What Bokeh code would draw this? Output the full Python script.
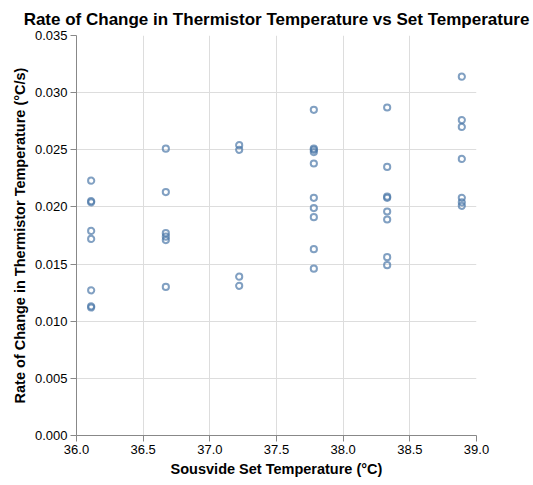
from bokeh.plotting import figure
from bokeh.models import FixedTicker, NumeralTickFormatter, Range1d
from bokeh.embed import file_html
from bokeh.resources import INLINE

# Set temperatures (°C) and measured rates (°C/s)
set_temp = (
    [36.11] * 8 + [36.67] * 6 + [37.22] * 4 + [37.78] * 10 + [38.33] * 8 + [38.89] * 7
)
rate = [
    # 36.11
    0.0223, 0.0205, 0.0204, 0.0179, 0.0172, 0.0127, 0.0113, 0.0112,
    # 36.67
    0.0251, 0.0213, 0.0177, 0.0174, 0.0171, 0.0130,
    # 37.22
    0.0254, 0.0250, 0.0139, 0.0131,
    # 37.78
    0.0285, 0.0251, 0.0250, 0.0248, 0.0238, 0.0208, 0.0199, 0.0191, 0.0163, 0.0146,
    # 38.33
    0.0287, 0.0235, 0.0209, 0.0208, 0.0196, 0.0189, 0.0156, 0.0149,
    # 38.89
    0.0314, 0.0276, 0.0270, 0.0242, 0.0208, 0.0204, 0.0201,
]
x_ticks = [36.0, 36.5, 37.0, 37.5, 38.0, 38.5, 39.0]
y_ticks = [0.000, 0.005, 0.010, 0.015, 0.020, 0.025, 0.030, 0.035]

FONT = "Liberation Sans"

p = figure(
    width=533, height=485,
    x_range=Range1d(36.0, 39.0), y_range=Range1d(0.0, 0.035),
    output_backend="svg", toolbar_location=None,
    min_border_left=76, min_border_right=57, min_border_top=35, min_border_bottom=50,
    title="Rate of Change in Thermistor Temperature vs Set Temperature",
)
p.outline_line_color = None
p.background_fill_color = "white"
p.border_fill_color = "white"

p.title.align = "center"
p.title.text_font = FONT
p.title.text_font_size = "17px"
p.title.text_font_style = "bold"
p.title.text_color = "#000000"
p.title.offset = 0
p.title.standoff = 14

p.scatter(set_temp, rate, marker="circle", size=6.2, fill_color=None,
          line_color="#4c78a8", line_width=2, line_alpha=0.7)

for ax in (p.xaxis[0], p.yaxis[0]):
    ax.axis_line_color = "#888888"
    ax.major_tick_line_color = "#888888"
    ax.major_tick_out = 6
    ax.major_tick_in = 0
    ax.minor_tick_line_color = None
    ax.major_label_text_font = FONT
    ax.major_label_text_font_size = "13px"
    ax.major_label_text_color = "#000000"
    ax.axis_label_text_font = FONT
    ax.axis_label_text_font_size = "14.5px"
    ax.axis_label_text_font_style = "bold"
    ax.axis_label_text_color = "#000000"
    ax.major_label_standoff = 3

p.xaxis.ticker = FixedTicker(ticks=x_ticks)
p.yaxis.ticker = FixedTicker(ticks=y_ticks)
p.xaxis.formatter = NumeralTickFormatter(format="0.0")
p.yaxis.formatter = NumeralTickFormatter(format="0.000")
p.xaxis.axis_label = "Sousvide Set Temperature (°C)"
p.yaxis.axis_label = "Rate of Change in Thermistor Temperature (°C/s)"
p.xaxis.axis_label_standoff = 4
p.yaxis.axis_label_standoff = 4

p.grid.grid_line_color = "#dddddd"
p.grid.grid_line_width = 1

open("out.html", "w").write(file_html(p, INLINE))
